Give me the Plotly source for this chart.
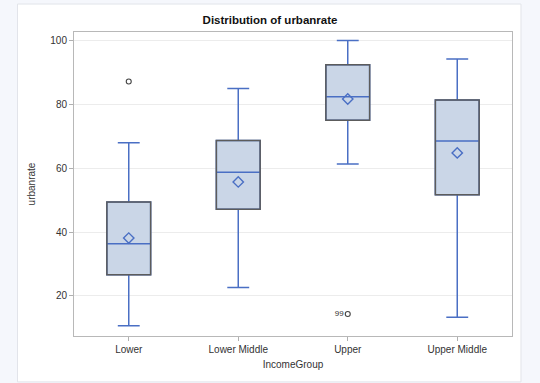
import plotly.graph_objects as go

categories = ["Lower", "Lower Middle", "Upper", "Upper Middle"]
q1 = [26.6, 47.1, 75.0, 51.7]
median = [36.3, 58.7, 82.4, 68.5]
q3 = [49.4, 68.7, 92.4, 81.4]
lower_whisker = [10.6, 22.6, 61.3, 13.3]
upper_whisker = [68.0, 85.0, 100.0, 94.2]
means = [38.1, 55.7, 81.7, 64.8]
outlier_groups = ["Lower", "Upper"]
outlier_values = [87.2, 14.3]
outlier_labels = ["", "99"]

BLUE = "#4a6fc4"
GRAY = "#5c5c5c"
FONT = "Liberation Sans, Arial, sans-serif"

fig = go.Figure()
# box with blue whiskers and median
fig.add_trace(go.Box(
    x=categories, q1=q1, median=median, q3=q3,
    lowerfence=lower_whisker, upperfence=upper_whisker,
    fillcolor="#cad6e7", line=dict(color=BLUE, width=1.5),
    whiskerwidth=0.5, width=0.4, boxpoints=False, showlegend=False,
    hoverinfo="skip",
))
# gray outline of the interquartile boxes (on an overlaid axis pair so it sits on top)
fig.add_trace(go.Bar(
    x=categories, base=q1, y=[b - a for a, b in zip(q1, q3)],
    width=0.4, marker=dict(color="rgba(0,0,0,0)", line=dict(color=GRAY, width=1.5)),
    showlegend=False, hoverinfo="skip", xaxis="x2", yaxis="y2",
))
fig.add_trace(go.Scatter(
    x=categories, y=means, mode="markers",
    marker=dict(symbol="diamond-open", size=8, color=BLUE, line=dict(width=1.4, color=BLUE)),
    showlegend=False, xaxis="x2", yaxis="y2",
))
fig.add_trace(go.Scatter(
    x=outlier_groups, y=outlier_values, mode="markers+text",
    text=outlier_labels, textposition="middle left",
    textfont=dict(family=FONT, size=8, color="#333333"),
    marker=dict(symbol="circle-open", size=5, color="#444444", line=dict(width=1.1, color="#444444")),
    showlegend=False, xaxis="x2", yaxis="y2",
))

YRANGE = [7.4, 102.7]
XRANGE = [-0.5, 3.5]

fig.update_layout(
    width=540, height=383,
    margin=dict(l=74, r=28, t=32, b=47),
    paper_bgcolor="#f5f7fc",
    plot_bgcolor="white",
    font=dict(family=FONT, size=10, color="#333333"),
    boxmode="overlay", barmode="overlay",
    title=dict(text="<b>Distribution of urbanrate</b>", x=0.5, xanchor="center",
               yref="container", y=1 - 20 / 383, yanchor="middle",
               font=dict(family=FONT, size=11.5, color="#111111")),
    shapes=[dict(type="rect", xref="paper", yref="paper",
                 x0=-0.129, x1=1.0205, y0=-0.151, y1=1.092,
                 fillcolor="white", line=dict(color="#e2e4ea", width=1), layer="below")],
    xaxis=dict(
        title=dict(text="IncomeGroup", standoff=6, font=dict(size=10)),
        range=XRANGE, categoryorder="array", categoryarray=categories,
        showline=True, mirror=True, linecolor="#b8b8b8", linewidth=1,
        ticks="outside", ticklen=4, tickcolor="#b0b0b0", showgrid=False,
        tickfont=dict(size=10),
    ),
    yaxis=dict(
        title=dict(text="urbanrate", standoff=12, font=dict(size=10)),
        range=YRANGE, tickvals=[20, 40, 60, 80, 100],
        showline=True, mirror=True, linecolor="#b8b8b8", linewidth=1,
        ticks="outside", ticklen=4, tickcolor="#b0b0b0",
        gridcolor="#ececec", zeroline=False, tickfont=dict(size=10),
    ),
    xaxis2=dict(overlaying="x", range=XRANGE, categoryorder="array",
                categoryarray=categories, visible=False, showgrid=False),
    yaxis2=dict(overlaying="y", range=YRANGE, visible=False, showgrid=False, zeroline=False),
)

fig.write_html(
    "out.html",
    config={"displayModeBar": False},
    post_script="document.body.style.margin='0';document.body.style.overflow='hidden';",
)
